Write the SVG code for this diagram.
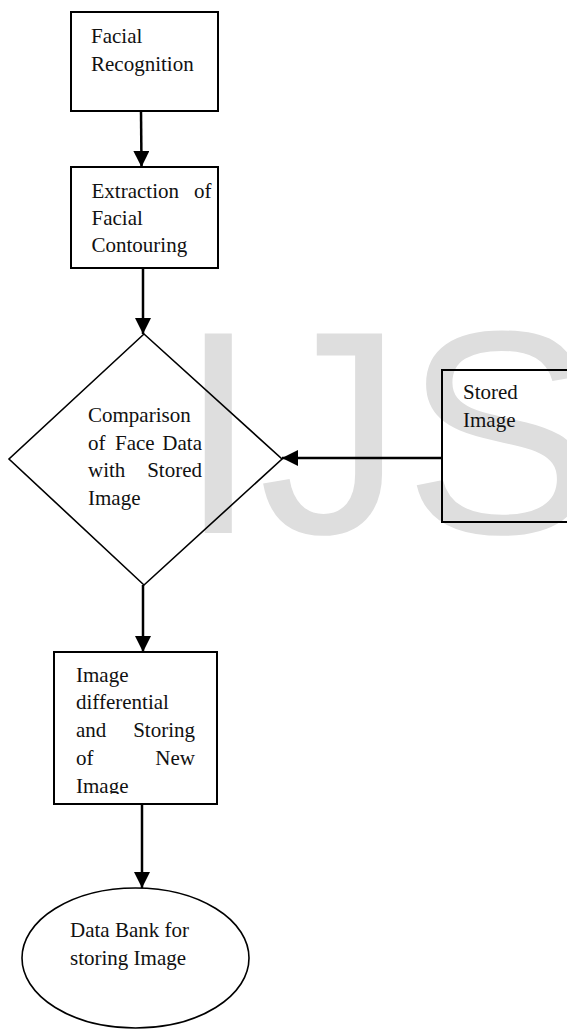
<svg xmlns="http://www.w3.org/2000/svg" width="567" height="1030" viewBox="0 0 567 1030">
  <style>
    .shape { fill: none; stroke: #000; stroke-width: 2; }
    .thin { fill: none; stroke: #000; stroke-width: 1.6; }
    .label { font-family: "Liberation Serif", "Times New Roman", serif; font-size: 21px; fill: #111; }
    .edge { fill: none; stroke: #000; stroke-width: 2.5; marker-end: url(#arrow); }
    .mark { font-family: "Liberation Sans", Arial, sans-serif; font-size: 290px; fill: #dedede; }
  </style>
  <defs>
    <marker id="arrow" viewBox="0 0 16 16" refX="16" refY="8" markerWidth="16" markerHeight="16" markerUnits="userSpaceOnUse" orient="auto">
      <path d="M0,0 L16,8 L0,16 z" fill="#000"/>
    </marker>
    <clipPath id="clip-diff">
      <rect x="54" y="652" width="163" height="142"/>
    </clipPath>
  </defs>
  <rect width="567" height="1030" fill="#fff"/>

  <!-- background lettering -->
  <text class="mark" x="178" y="533">IJS</text>

  <g id="facial-recognition">
    <rect class="shape" x="71" y="12" width="147" height="99"/>
    <text class="label" x="91" y="43">Facial</text>
    <text class="label" x="91" y="71">Recognition</text>
  </g>

  <g id="extraction">
    <rect class="shape" x="71" y="167" width="147" height="101"/>
    <text class="label" x="91.5" y="198">Extraction</text>
    <text class="label" x="211.5" y="198" text-anchor="end">of</text>
    <text class="label" x="91.5" y="225">Facial</text>
    <text class="label" x="91.5" y="252">Contouring</text>
  </g>

  <g id="comparison">
    <polygon class="thin" points="144,334 282,459 144,585 9,459"/>
    <text class="label" x="88" y="422">Comparison</text>
    <text class="label" x="88" y="450">of</text>
    <text class="label" x="115" y="450">Face</text>
    <text class="label" x="202" y="450" text-anchor="end">Data</text>
    <text class="label" x="88" y="477">with</text>
    <text class="label" x="202" y="477" text-anchor="end">Stored</text>
    <text class="label" x="88" y="505">Image</text>
  </g>

  <g id="stored-image">
    <path class="shape" d="M572,370 H442 V522 H572"/>
    <text class="label" x="463" y="399">Stored</text>
    <text class="label" x="463" y="427">Image</text>
  </g>

  <g id="image-differential">
    <rect class="shape" x="54" y="652" width="163" height="152"/>
    <text class="label" x="76" y="682">Image</text>
    <text class="label" x="76" y="709">differential</text>
    <text class="label" x="76" y="737">and</text>
    <text class="label" x="195" y="737" text-anchor="end">Storing</text>
    <text class="label" x="76" y="765">of</text>
    <text class="label" x="195" y="765" text-anchor="end">New</text>
    <text class="label" x="76" y="793" clip-path="url(#clip-diff)">Image</text>
  </g>

  <g id="data-bank">
    <ellipse class="thin" cx="135.5" cy="958" rx="113.5" ry="70"/>
    <text class="label" x="70" y="937">Data Bank  for</text>
    <text class="label" x="70" y="965">storing Image</text>
  </g>

  <g id="connectors">
    <path class="edge" d="M141,111 L141.5,167"/>
    <path class="edge" d="M143,268 V334"/>
    <path class="edge" d="M442,458 H282"/>
    <path class="edge" d="M143,585 V652"/>
    <path class="edge" d="M142,804 V888"/>
  </g>
</svg>
